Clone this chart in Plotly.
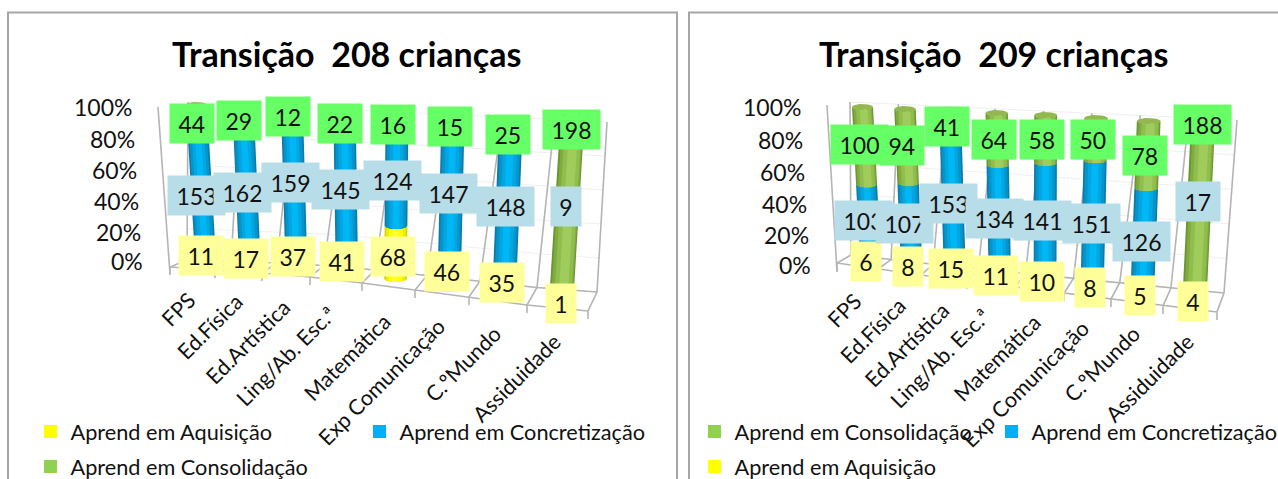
import math
import plotly.graph_objects as go

# ---------- data ----------
categories = ["FPS", "Ed.Física", "Ed.Artística", "Ling/Ab. Esc.ª", "Matemática",
              "Exp Comunicação", "C.ºMundo", "Assiduidade"]
tick_labels = ["0%", "20%", "40%", "60%", "80%", "100%"]
tick_values = [0, 20, 40, 60, 80, 100]
series_names = ["Aprend em Aquisição", "Aprend em Concretização", "Aprend em Consolidação"]

left_title = "Transição  208 crianças"
left_aquisicao = [11, 17, 37, 41, 68, 46, 35, 1]
left_concretizacao = [153, 162, 159, 145, 124, 147, 148, 9]
left_consolidacao = [44, 29, 12, 22, 16, 15, 25, 198]

right_title = "Transição  209 crianças"
right_aquisicao = [6, 8, 15, 11, 10, 8, 5, 4]
right_concretizacao = [103, 107, 153, 134, 141, 151, 126, 17]
right_consolidacao = [100, 94, 41, 64, 58, 50, 78, 188]

# ---------- layout of the two 3-D looking panels (page pixels) ----------
W, H = 1278, 479
SPLIT = 683
FONT = "Lato"
YELLOW, BLUE, GREEN = "#FFFF00", "#00B0F0", "#92D050"
LABEL_BG = ["#FFFF99", "#B7DDE8", "#66FF66"]
BANDS = {
    0: [(-1, 1, "#D6D600"), (-.85, .85, "#EEEE00"), (-.6, .6, "#FFFF00"), (-.3, .2, "#FFFF30")],
    1: [(-1, 1, "#0A7DAC"), (-.85, .85, "#0794CA"), (-.6, .6, "#02A6E1"), (-.3, .3, "#00B7F5")],
    2: [(-1, 1, "#6C9633"), (-.85, .9, "#80AC3F"), (-.6, .8, "#90BE4E"), (-.25, .5, "#A0CC5C")],
}
CAP = "#94B850"
LABEL_SIZE = 23
CATEGORY_SIZE = 21.5
LEGEND_SIZE = 21.7
TITLE_SIZE = 34

left_panel = dict(
    title=left_title, title_x=346, title_y=53, y0=262, k=1.54, xaxis="x", yaxis="y",
    values=[left_aquisicao, left_concretizacao, left_consolidacao],
    base_x=[205.5, 250, 296.5, 347, 395.5, 449, 504, 561],
    top_x=[196.5, 243, 292, 344.5, 397, 453, 511, 572],
    base_y=[259, 265, 271, 277, 279, 289, 296, 304],
    height=[154, 158, 162, 166, 162, 172, 175, 178],
    label_x=[[200.5, 245.7, 292.5, 342, 393, 446.5, 502.3, 560.7],
             [196.7, 242, 290, 340, 392.5, 448, 505.3, 566],
             [191.7, 239.2, 288, 340, 393, 449.8, 508, 571]],
    label_y=[[255.8, 258.5, 256.7, 261, 256.7, 271.5, 282.5, 303.8],
             [195.5, 192, 182.5, 189.8, 180.5, 193.5, 206.7, 206.7],
             [123.3, 120.3, 116, 123.3, 124, 126.2, 134.2, 129.5]],
    cat_x=[204, 250, 298, 344, 399, 453, 509, 569],
    cat_y=[284, 286, 292, 298, 305, 311, 318, 326],
    tick_x=[145, 143, 141, 139, 137, 134],
    tick_y=[261, 231.7, 201, 170, 139, 106.7],
    front_x=[170, 215, 262, 310, 362, 415, 469, 527, 588],
    front_y=[267, 270, 273, 277, 283, 290, 297, 305, 311],
    diag_start=(17, -7), diag_end=(9, -19),
    wall_top_start=(188, 102), wall_top_end=(607, 122),
    left_wall=[(158, 107), (170, 274)],
    legend=[(51, 432, 0), (380, 432, 1), (51, 467, 2)],
)
right_panel = dict(
    title=right_title, title_x=993.5, title_y=53, y0=266, k=1.585, xaxis="x2", yaxis="y2",
    values=[right_aquisicao, right_concretizacao, right_consolidacao],
    base_x=[871, 912, 955, 1000, 1045, 1092, 1142, 1194],
    top_x=[862.5, 905, 950, 996.7, 1045.7, 1096, 1148.7, 1203],
    base_y=[269, 274, 279, 283, 288, 295, 301, 309],
    height=[162, 165, 169, 170, 173, 177, 180, 185],
    label_x=[[865.8, 907.5, 950.5, 995.5, 1042, 1090.2, 1140.3, 1192.8],
             [863.3, 904.7, 948, 994, 1042, 1091.8, 1141, 1198.2],
             [859.5, 901.8, 946.7, 993.7, 1042, 1093, 1145, 1202.5]],
    label_y=[[261.7, 266, 268.3, 275.3, 281.2, 287.3, 295.3, 301.7],
             [220.8, 223, 203.3, 218, 220.8, 223.3, 241.3, 201.7],
             [144.8, 145.5, 126.7, 139.7, 139.8, 139.7, 155.8, 124.5]],
    cat_x=[870, 913, 957, 998, 1048.5, 1097, 1148, 1202],
    cat_y=[285, 290, 295, 300, 306, 313, 318, 326],
    tick_x=[813, 811, 809, 807, 805, 803],
    tick_y=[265, 235, 204, 171.7, 140, 106.7],
    front_x=[837, 878, 921, 967, 1015, 1064, 1111, 1163, 1217],
    front_y=[263, 269, 275, 281, 287, 293, 299, 306, 312],
    diag_start=(14, -8), diag_end=(7, -19),
    wall_top_start=(850, 102), wall_top_end=(1237, 120),
    left_wall=[(827, 105), (837, 272)],
    legend=[(715, 432, 2), (1012, 432, 1), (715, 467, 0)],
)

WALL_COLOR = "#B4B4B4"
GRID_COLOR = "#EFEFEF"
FRAME_COLOR = "#A6A6A6"
LEGEND_COLORS = [YELLOW, BLUE, GREEN]

fig = go.Figure()
annotations = []
legends = {}
legend_no = 0


def ax_y(p, py):
    return (p["y0"] - py) / p["k"]


def add_poly(p, xs, ys, color):
    fig.add_trace(go.Scatter(
        x=xs, y=ys, mode="lines", fill="toself", fillcolor=color, line=dict(width=0),
        xaxis=p["xaxis"], yaxis=p["yaxis"], hoverinfo="skip", showlegend=False))


def add_lines(p, segs, color, width):
    xs, ys = [], []
    for seg in segs:
        for px, py in seg:
            xs.append(px)
            ys.append(ax_y(p, py))
        xs.append(None)
        ys.append(None)
    fig.add_trace(go.Scatter(
        x=xs, y=ys, mode="lines", line=dict(color=color, width=width),
        xaxis=p["xaxis"], yaxis=p["yaxis"], hoverinfo="skip", showlegend=False))


def text(p, px, py, s, size, **kw):
    annotations.append(dict(
        xref=p["xaxis"], yref=p["yaxis"], x=px, y=ax_y(p, py), text=s, showarrow=False,
        font=dict(family=FONT, size=size, color=kw.pop("color", "#111111")), **kw))


def draw_panel(p):
    global legend_no
    n = len(categories)
    # floor, walls, ticks
    feet, tops = [], []
    for j in range(n + 1):
        t = j / n
        dx = p["diag_start"][0] + (p["diag_end"][0] - p["diag_start"][0]) * t
        dy = p["diag_start"][1] + (p["diag_end"][1] - p["diag_start"][1]) * t
        feet.append((p["front_x"][j] + dx, p["front_y"][j] + dy))
        tops.append((p["wall_top_start"][0] + (p["wall_top_end"][0] - p["wall_top_start"][0]) * t,
                     p["wall_top_start"][1] + (p["wall_top_end"][1] - p["wall_top_start"][1]) * t))
    grid = []
    for v in tick_values:
        f = v / 100
        grid.append([(feet[j][0] + (tops[j][0] - feet[j][0]) * f,
                      feet[j][1] + (tops[j][1] - feet[j][1]) * f) for j in range(n + 1)])
    add_lines(p, grid, GRID_COLOR, 1)
    segs = [p["left_wall"], [feet[j] for j in range(n + 1)]]
    segs.append(list(zip(p["front_x"], p["front_y"])))
    for j in range(n + 1):
        fx, fy = p["front_x"][j], p["front_y"][j]
        segs.append([(fx, fy + 8), (fx, fy), feet[j], tops[j]])
    add_lines(p, segs, WALL_COLOR, 1.6)

    # cylinders
    totals = [sum(v[i] for v in p["values"]) for i in range(n)]
    ry = 3.0
    cum = [0.0] * n
    for s, vals in enumerate(p["values"]):
        lo = [cum[i] for i in range(n)]
        hi = [cum[i] + 100 * vals[i] / totals[i] for i in range(n)]
        for a, b, color in BANDS[s]:
            xs, ys = [], []
            for i in range(n):
                half = (21 + .45 * i) / 2
                us = [a + (b - a) * q / 10 for q in range(11)]
                for pct, order in ((lo[i], us), (hi[i], us[::-1])):
                    cx = p["base_x"][i] + (p["top_x"][i] - p["base_x"][i]) * pct / 100
                    cy = p["base_y"][i] - p["height"][i] * pct / 100
                    for u in order:
                        xs.append(cx + half * u)
                        ys.append(ax_y(p, cy + ry * math.sqrt(max(0, 1 - u * u))))
                xs.append(None)
                ys.append(None)
            add_poly(p, xs, ys, color)
        cum = hi
    xs, ys = [], []
    for i in range(n):
        half = (21 + .45 * i) / 2
        cx, cy = p["top_x"][i], p["base_y"][i] - p["height"][i]
        for q in range(25):
            ang = 2 * math.pi * q / 24
            xs.append(cx + half * math.cos(ang))
            ys.append(ax_y(p, cy + ry * math.sin(ang)))
        xs.append(None)
        ys.append(None)
    add_poly(p, xs, ys, CAP)

    # title, tick labels, category labels
    text(p, p["title_x"], p["title_y"], "<b>%s</b>" % p["title"], TITLE_SIZE, color="#000000",
         xanchor="center", yanchor="middle")
    for lab, tx, ty in zip(tick_labels, p["tick_x"], p["tick_y"]):
        text(p, tx, ty, lab, LABEL_SIZE, xanchor="right", yanchor="middle")
    for lab, cx, cy in zip(categories, p["cat_x"], p["cat_y"]):
        text(p, cx, cy, lab, CATEGORY_SIZE, textangle=-45, xanchor="right", yanchor="top")

    # data labels
    for s, vals in enumerate(p["values"]):
        for i, v in enumerate(vals):
            digits = len(str(v))
            text(p, p["label_x"][s][i], p["label_y"][s][i], str(v), LABEL_SIZE,
                 xanchor="center", yanchor="middle", bgcolor=LABEL_BG[s], borderpad=0,
                 width=30 + 13.5 * (digits - 1), height=39, align="center", valign="middle")

    # legend: one small legend per entry, placed as in the picture
    for lx, ly, s in p["legend"]:
        legend_no += 1
        name = "legend" if legend_no == 1 else "legend%d" % legend_no
        fig.add_trace(go.Scatter(
            x=[None], y=[None], mode="markers", name=series_names[s],
            marker=dict(symbol="square", size=13, color=LEGEND_COLORS[s]),
            xaxis=p["xaxis"], yaxis=p["yaxis"], legend=name, showlegend=True))
        legends[name] = dict(
            x=(lx - 9.5) / W, y=1 - ly / H, xanchor="left", yanchor="middle",
            bgcolor="rgba(0,0,0,0)", borderwidth=0, indentation=-11,
            font=dict(family=FONT, size=LEGEND_SIZE, color="#111111"))


draw_panel(left_panel)
draw_panel(right_panel)

frames = [(8, 677), (689, 1290)]
shapes = [dict(type="rect", xref="paper", yref="paper",
               x0=a / W, x1=b / W, y0=-0.1, y1=1 - 12.5 / H,
               line=dict(color=FRAME_COLOR, width=2), fillcolor="rgba(0,0,0,0)", layer="below")
          for a, b in frames]


def yrange(p):
    return [ax_y(p, H), ax_y(p, 0)]


fig.update_layout(
    width=W, height=H, margin=dict(l=0, r=0, t=0, b=0, autoexpand=False),
    paper_bgcolor="white", plot_bgcolor="rgba(0,0,0,0)", hovermode=False,
    annotations=annotations, shapes=shapes,
    xaxis=dict(domain=[0, SPLIT / W], range=[0, SPLIT], visible=False),
    yaxis=dict(domain=[0, 1], range=yrange(left_panel), visible=False),
    xaxis2=dict(domain=[SPLIT / W, 1], range=[SPLIT, W], visible=False),
    yaxis2=dict(domain=[0, 1], range=yrange(right_panel), visible=False, anchor="x2"),
    **legends,
)
fig.write_html("out.html", config=dict(displayModeBar=False),
               post_script="document.body.style.margin='0';document.body.style.overflow='hidden';")
